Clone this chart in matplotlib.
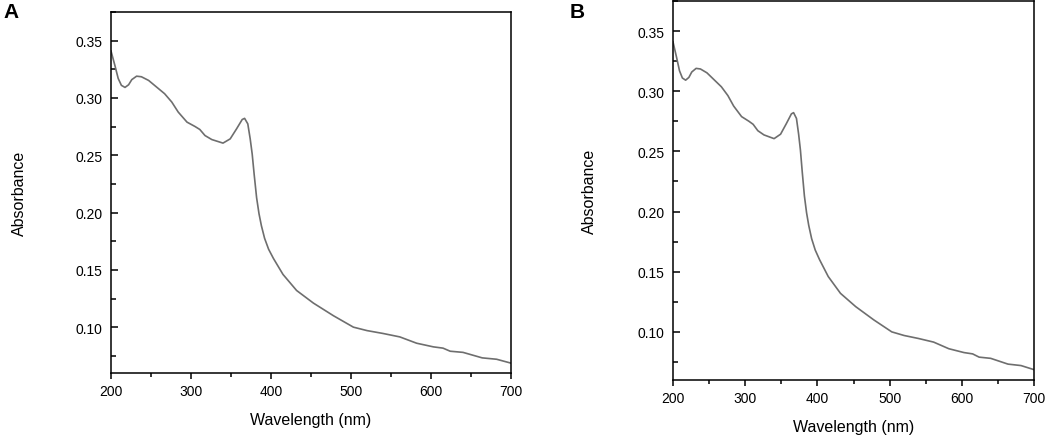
"""
UV-Vis absorbance spectra, two panels (A and B)
"""

import matplotlib
matplotlib.use("Agg")
import matplotlib.pyplot as plt
from matplotlib.ticker import MultipleLocator

plt.rcParams["font.family"] = ["Liberation Sans", "DejaVu Sans"]

# spectrum (same curve in both panels)
wavelength = [200, 205, 209, 213, 217.5, 222, 226, 232, 238, 247, 257, 267,
              276, 284, 295, 305, 311, 317.5, 326, 340, 349, 357, 364, 367,
              371, 374, 376.5, 379, 382, 385, 388, 392, 397, 403, 415, 432,
              453, 478, 503, 520, 540, 561, 582, 603, 615, 624, 640, 664,
              682, 700]
absorbance = [0.341, 0.328, 0.317, 0.311, 0.3092, 0.3115, 0.316, 0.319,
              0.3185, 0.3153, 0.3095, 0.3037, 0.2964, 0.2877, 0.2789, 0.2751,
              0.2725, 0.2672, 0.2637, 0.2606, 0.2643, 0.2731, 0.2812, 0.2822,
              0.2774, 0.2643, 0.2510, 0.2330, 0.2130, 0.1990, 0.1885, 0.1775,
              0.1680, 0.1600, 0.1460, 0.1320, 0.1210, 0.1100, 0.1000, 0.0970,
              0.0945, 0.0915, 0.0860, 0.0828, 0.0817, 0.0790, 0.0780, 0.0732,
              0.0720, 0.0686]

panel_labels = ["A", "B"]
x_label = "Wavelength (nm)"
y_label = "Absorbance"

fig = plt.figure(figsize=(10.45, 4.39), dpi=100)

# axes boxes in figure fractions (the two panels are not the same size)
boxes = [
    [111 / 1045, 65 / 439, 400 / 1045, 361 / 439],
    [673 / 1045, 58 / 439, 361 / 1045, 379 / 439],
]
letter_pos = [(3 / 1045, 1 - 13 / 439), (570 / 1045, 1 - 12 / 439)]
ylabel_x = [27 / 1045, 597 / 1045]

for box, lab, lpos, ylx in zip(boxes, panel_labels, letter_pos, ylabel_x):
    ax = fig.add_axes(box)
    ax.plot(wavelength, absorbance, color="#6e6e6e", linewidth=1.2,
            solid_joinstyle="round")
    ax.set_xlim(200, 700)
    ax.set_ylim(0.06, 0.375)

    ax.xaxis.set_major_locator(MultipleLocator(100))
    ax.xaxis.set_minor_locator(MultipleLocator(50))
    ax.yaxis.set_major_locator(MultipleLocator(0.05))
    ax.yaxis.set_minor_locator(MultipleLocator(0.025))
    ax.yaxis.set_major_formatter(plt.FormatStrFormatter("%.2f"))

    ax.tick_params(axis="y", which="major", direction="in", length=5,
                   width=1.1, pad=6, labelsize=10)
    ax.tick_params(axis="y", which="minor", direction="in", length=3.5,
                   width=1.1)
    ax.tick_params(axis="x", which="major", direction="out", length=4,
                   width=1.1, pad=4, labelsize=10)
    ax.tick_params(axis="x", which="minor", direction="out", length=3,
                   width=1.1)

    for sp in ax.spines.values():
        sp.set_linewidth(1.1)
        sp.set_color("black")

    ax.set_xlabel(x_label, fontsize=11.5, labelpad=10)
    ax.set_ylabel(y_label, fontsize=11.5)
    ax.yaxis.set_label_coords(ylx, box[1] + box[3] / 2,
                              transform=fig.transFigure)

    fig.text(lpos[0], lpos[1], lab, fontsize=15, fontweight="bold",
             va="center", ha="left")

fig.savefig("out.png", dpi=100)
